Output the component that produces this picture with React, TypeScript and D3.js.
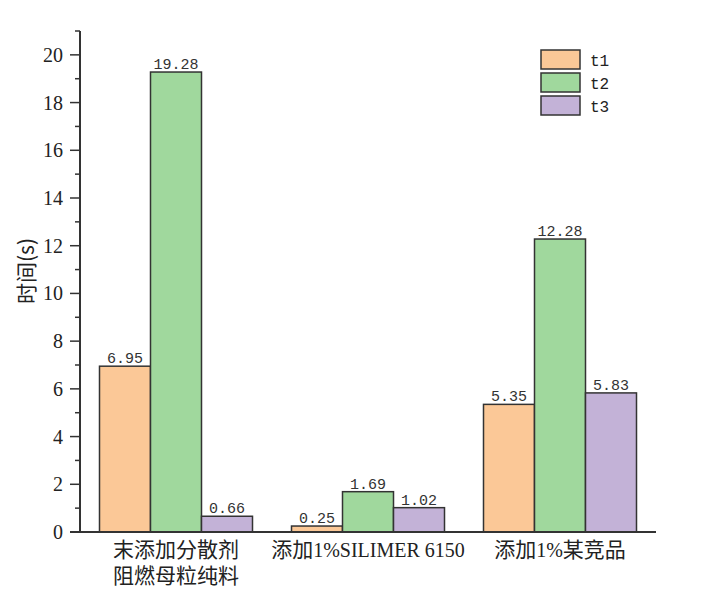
import React from "react";
import * as d3 from "d3";

const categories = ["g1", "g2", "g3"];
const categoryLines = [["末添加分散剂", "阻燃母粒纯料"], ["添加1%SILIMER 6150"], ["添加1%某竞品"]];
const seriesNames = ["t1", "t2", "t3"];
const t1 = [6.95, 0.25, 5.35];
const t2 = [19.28, 1.69, 12.28];
const t3 = [0.66, 1.02, 5.83];
const yTicks = [0, 2, 4, 6, 8, 10, 12, 14, 16, 18, 20];
const yMinor = [1, 3, 5, 7, 9, 11, 13, 15, 17, 19, 21];
const colors = ["#FBC897", "#A0D89D", "#C3B2D7"];

function runs(s: string) {
  const out: { t: string; latin: boolean }[] = [];
  for (const ch of s) {
    const latin = ch.charCodeAt(0) < 0x2e80;
    const last = out[out.length - 1];
    if (last && last.latin === latin) last.t += ch;
    else out.push({ t: ch, latin });
  }
  return out;
}

export default function App() {
  const W = 726, H = 601;
  const left = 80, right = 656, top = 31, bottom = 532;
  const band = (right - left) / categories.length;
  const groupW = 153;
  const x1 = d3.scaleBand().domain(seriesNames).range([0, groupW]);
  const y = d3.scaleLinear().domain([0, 21]).range([bottom, top]);
  const series = [t1, t2, t3];
  const mono = "'Liberation Mono', 'Noto Sans CJK SC', monospace";
  const serif = "'Liberation Serif', 'Noto Sans CJK SC', serif";
  const cjk = "'Noto Sans CJK SC', sans-serif";
  return (
    <svg width={W} height={H} style={{ position: "absolute", left: 0, top: 0, background: "#fff" }}>
      <rect x={0} y={0} width={W} height={H} fill="#fff" />
      {categories.map((c, i) => {
        const gx = left + band * i + (band - groupW) / 2;
        return (
          <g key={c}>
            {series.map((s, j) => {
              const bx = gx + (x1(seriesNames[j]) as number);
              const by = y(s[i]);
              return (
                <g key={j}>
                  <rect x={bx} y={by} width={x1.bandwidth()} height={bottom - by}
                    fill={colors[j]} stroke="#333" strokeWidth={1.5} />
                  <text x={bx + x1.bandwidth() / 2} y={by - 3} textAnchor="middle"
                    fontFamily={mono} fontSize={15} fill="#333">{s[i].toFixed(2)}</text>
                </g>
              );
            })}
            {categoryLines[i].map((ln, k) => (
              <text key={k} x={left + band * i + band / 2} y={557 + k * 26} textAnchor="middle"
                fontFamily={cjk} fontSize={21} fill="#222">
                {runs(ln).map((r, m) => (
                  <tspan key={m} fontFamily={r.latin ? serif : cjk} fontSize={r.latin ? 20 : 21}>{r.t}</tspan>
                ))}
              </text>
            ))}
          </g>
        );
      })}
      <line x1={left} x2={left} y1={top} y2={bottom} stroke="#333" strokeWidth={2} />
      <line x1={left - 10} x2={right} y1={bottom} y2={bottom} stroke="#333" strokeWidth={2} />
      {yTicks.map((t) => (
        <g key={t}>
          <line x1={left - 10} x2={left} y1={y(t)} y2={y(t)} stroke="#333" strokeWidth={1.5} />
          <text x={left - 17} y={y(t) + 7} textAnchor="end" fontFamily={serif} fontSize={20} fill="#222">{t}</text>
        </g>
      ))}
      {yMinor.map((t) => (
        <line key={t} x1={left - 5} x2={left} y1={y(t)} y2={y(t)} stroke="#333" strokeWidth={1.5} />
      ))}
      <text transform={`translate(34, 271) rotate(-90)`} textAnchor="middle"
        fontFamily={cjk} fontSize={21} fill="#222">时间(s)</text>
      {seriesNames.map((n, j) => (
        <g key={n}>
          <rect x={541} y={50 + j * 23} width={39} height={19} fill={colors[j]} stroke="#333" strokeWidth={1.5} />
          <text x={590} y={66 + j * 23} fontFamily={mono} fontSize={16} fill="#222">{n}</text>
        </g>
      ))}
    </svg>
  );
}
